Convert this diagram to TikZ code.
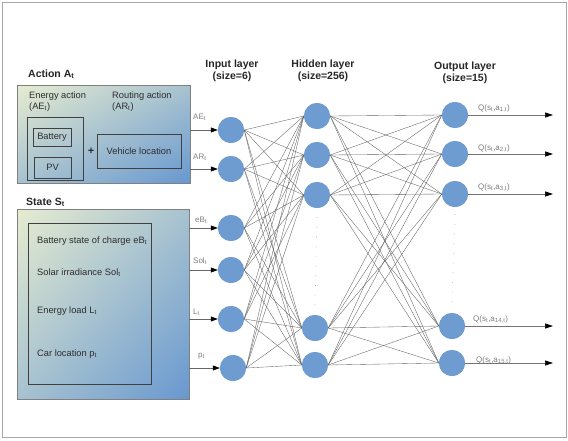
\documentclass[tikz,border=0pt]{standalone}
\usepackage{fontspec}
\setmainfont{Liberation Sans}
\usetikzlibrary{arrows.meta}
\definecolor{nodeblue}{RGB}{110,155,208}
\definecolor{txtgrey}{RGB}{125,125,125}
\definecolor{boxtxt}{RGB}{45,45,45}
% diagonal gradient: light yellow-green (top left) to blue (bottom right)
\pgfdeclarefunctionalshading{diagshade}{\pgfpoint{0bp}{0bp}}{\pgfpoint{100bp}{100bp}}{}{
  75 exch sub exch 25 sub add 100 div
  dup 0 lt {pop 0} if
  dup 1 gt {pop 1} if
  dup -0.494 mul 0.902 add exch
  dup -0.329 mul 0.925 add exch
  pop 0.816
}
\begin{document}
\begin{tikzpicture}[x=1pt,y=-1pt,
  neuron/.style={circle, fill=nodeblue, draw=none, minimum size=26pt, inner sep=0pt},
  link/.style={draw=black!62, line width=0.35pt},
  inarrow/.style={draw=black!60, line width=0.6pt, -{Triangle[length=7pt,width=5pt,color=black]}},
  outarrow/.style={draw=black!55, line width=0.7pt, -{Triangle[length=8pt,width=5pt,color=black]}},
  gradbox/.style={draw=black!50, line width=0.7pt, shade, shading=diagshade, shading angle=0, inner sep=0pt},
  innerbox/.style={draw=black!75, line width=0.5pt, inner sep=0pt, font=\fontsize{9.3}{11}\selectfont, text=boxtxt},
  boxtext/.style={font=\fontsize{9.3}{11}\selectfont, text=boxtxt, inner sep=0pt, anchor=base west},
  layertitle/.style={font=\bfseries\fontsize{10.5}{12.5}\selectfont, text=black!85, inner sep=0pt, anchor=base},
  boxtitle/.style={font=\bfseries\fontsize{10.5}{12.5}\selectfont, text=black!85, inner sep=0pt, anchor=base west},
  lbl/.style={font=\fontsize{8}{9}\selectfont, text=txtgrey, inner sep=0pt, anchor=base west},
  dotsline/.style={draw=black!35, line width=0.7pt, dash pattern=on 0.7pt off 9pt},
]
\useasboundingbox (0,0) rectangle (568,440);
\draw[black!35, line width=0.8pt] (2,2) rectangle (566,437);

% ---- Action box
\node[boxtitle] (atitle) at (28,77) {Action A\textsubscript{t}};
\node[gradbox, minimum width=173pt, minimum height=98pt] (action) at (103.5,134) {};
\node[boxtext] (ea1) at (29,98) {Energy action};
\node[boxtext] (ea2) at (29,109) {(AE\textsubscript{t})};
\node[boxtext] (ra1) at (112,98) {Routing action};
\node[boxtext] (ra2) at (112,109) {(AR\textsubscript{t})};
\node[innerbox, minimum width=56pt, minimum height=63pt] (energy) at (55,148.5) {};
\node[innerbox, minimum width=38pt, minimum height=18pt] (battery) at (52,137) {Battery};
\node[innerbox, minimum width=37pt, minimum height=21pt] (pv) at (52.5,167.5) {PV};
\node[font=\bfseries\fontsize{11}{12}\selectfont, text=boxtxt, inner sep=0pt] (plus) at (91,151) {+};
\node[innerbox, minimum width=84pt, minimum height=34pt] (vehicle) at (139,151) {Vehicle location};

% ---- State box
\node[boxtitle] (stitle) at (26,205) {State S\textsubscript{t}};
\node[gradbox, minimum width=172pt, minimum height=190pt] (state) at (103,304) {};
\node[innerbox, minimum width=123pt, minimum height=161pt] (sinner) at (89.5,303.5) {};
\node[boxtext] (s1) at (37,243) {Battery state of charge eB\textsubscript{t}};
\node[boxtext] (s2) at (37,275) {Solar irradiance Sol\textsubscript{t}};
\node[boxtext] (s3) at (37,313) {Energy load L\textsubscript{t}};
\node[boxtext] (s4) at (37,356) {Car location p\textsubscript{t}};

% ---- Layer titles
\node[layertitle] (t1a) at (232,67) {Input layer};
\node[layertitle] (t1b) at (232,79) {(size=6)};
\node[layertitle] (t2a) at (323,67) {Hidden layer};
\node[layertitle] (t2b) at (323,79) {(size=256)};
\node[layertitle] (t3a) at (465,69) {Output layer};
\node[layertitle] (t3b) at (465,81) {(size=15)};

% ---- Neurons
\node[neuron] (i1) at (231,130) {};
\node[neuron] (i2) at (231,169) {};
\node[neuron] (i3) at (231,228) {};
\node[neuron] (i4) at (231,270) {};
\node[neuron] (i5) at (231,319) {};
\node[neuron] (i6) at (233,368) {};

\node[neuron] (h1) at (317,116) {};
\node[neuron] (h2) at (317,155) {};
\node[neuron] (h3) at (317,195) {};
\node[neuron] (h4) at (315,328) {};
\node[neuron] (h5) at (315,365) {};

\node[neuron] (o1) at (455,115) {};
\node[neuron] (o2) at (455,154) {};
\node[neuron] (o3) at (455,194) {};
\node[neuron] (o4) at (452,326) {};
\node[neuron] (o5) at (452,363) {};

% ---- Links
\foreach \i in {1,...,6}
  \foreach \h in {1,...,5}
    \draw[link] (i\i.east) -- (h\h.west);
\foreach \h in {1,...,5}
  \foreach \o in {1,...,5}
    \draw[link] (h\h.east) -- (o\o.west);
% neurons drawn again above the links
\foreach \n in {i1,i2,i3,i4,i5,i6,h1,h2,h3,h4,h5,o1,o2,o3,o4,o5}
  \fill[nodeblue] (\n.center) circle (13pt);

% ---- Dots
\draw[dotsline] ([yshift=-9pt]h3.south) -- ([yshift=7pt]h4.north);
\draw[dotsline] ([yshift=-7pt]o3.south) -- ([yshift=9pt]o4.north);

% ---- Input arrows
\draw[inarrow] (action.east |- i1) -- (i1);
\draw[inarrow] (action.east |- i2) -- (i2);
\draw[inarrow] (state.east |- i3) -- (i3);
\draw[inarrow] (state.east |- i4) -- (i4);
\draw[inarrow] (state.east |- i5) -- (i5);
\draw[inarrow] (state.east |- i6) -- (i6);
\node[lbl] (l1) at (193,119) {AE\textsubscript{t}};
\node[lbl] (l2) at (193,159) {AR\textsubscript{t}};
\node[lbl] (l3) at (195,222) {eB\textsubscript{t}};
\node[lbl] (l4) at (193,263) {Sol\textsubscript{t}};
\node[lbl] (l5) at (193,314) {L\textsubscript{t}};
\node[lbl] (l6) at (198,357) {p\textsubscript{t}};

% ---- Output arrows
\coordinate (qend) at (553,0);
\foreach \o in {o1,o2,o3,o4,o5}
  \draw[outarrow] (\o.east) -- (\o.east -| qend);
\node[lbl] (q1) at (478,110) {Q(s\textsubscript{t},a\textsubscript{1,t})};
\node[lbl] (q2) at (478,150) {Q(s\textsubscript{t},a\textsubscript{2,t})};
\node[lbl] (q3) at (478,189) {Q(s\textsubscript{t},a\textsubscript{3,t})};
\node[lbl] (q4) at (473,321) {Q(s\textsubscript{t},a\textsubscript{14,t})};
\node[lbl] (q5) at (476,362) {Q(s\textsubscript{t},a\textsubscript{15,t})};
\end{tikzpicture}
\end{document}
